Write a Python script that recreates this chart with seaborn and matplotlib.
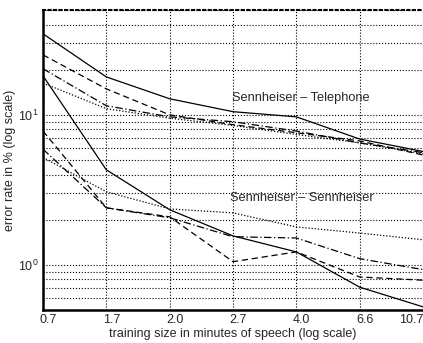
import numpy as np
import pandas as pd
import matplotlib
matplotlib.use("Agg")
import matplotlib.pyplot as plt
import matplotlib.transforms as mtransforms
import seaborn as sns

# ── data ──────────────────────────────────────────────────────
train_sizes = ["0.7", "1.7", "2.0", "2.7", "4.0", "6.6", "10.7"]
systems = ["sys1", "sys2", "sys3", "sys4"]

# Sennheiser – Telephone
tel_sys1 = [34.7, 17.9, 12.8, 10.5, 9.7, 6.9, 5.7]
tel_sys2 = [25.1, 14.9, 10.0, 8.6, 7.6, 6.7, 5.4]
tel_sys3 = [20.3, 11.5, 9.7, 9.0, 7.8, 6.5, 5.6]
tel_sys4 = [16.3, 11.0, 9.5, 8.5, 7.4, 6.5, 5.5]

# Sennheiser – Sennheiser
sen_sys1 = [18.2, 4.3, 2.33, 1.56, 1.22, 0.71, 0.525]
sen_sys2 = [7.8, 2.4, 2.09, 1.05, 1.22, 0.83, 0.79]
sen_sys3 = [5.9, 2.4, 2.06, 1.54, 1.51, 1.10, 0.93]
sen_sys4 = [5.2, 3.07, 2.36, 2.22, 1.79, 1.63, 1.47]

rows = []
for cond, series in [("tel", [tel_sys1, tel_sys2, tel_sys3, tel_sys4]),
                     ("sen", [sen_sys1, sen_sys2, sen_sys3, sen_sys4])]:
    for name, vals in zip(systems, series):
        for size, v in zip(train_sizes, vals):
            rows.append({"cond": cond, "system": name, "size": size, "err": v})
df = pd.DataFrame(rows)

# ── plot ──────────────────────────────────────────────────────
sns.set_style("white")
plt.rcParams["font.family"] = ["Liberation Sans", "DejaVu Sans"]

fig = plt.figure(figsize=(4.23, 3.43), dpi=100)
ax = fig.add_axes([0.1017, 0.0962, 0.8983, 0.8746])

dashes = {"sys1": "", "sys2": (5, 3), "sys3": (6, 2, 1, 2), "sys4": (1, 1.5)}
for cond in ["tel", "sen"]:
    sns.lineplot(data=df[df.cond == cond], x="size", y="err", style="system",
                 dashes=dashes, color="black", linewidth=0.9, sort=False,
                 legend=False, ax=ax)

ax.set_yscale("log")
ax.set_ylim(0.5, 50)
ax.set_xlim(0, len(train_sizes) - 1)
ax.set_xticks(range(len(train_sizes)))
ax.set_xticklabels(train_sizes, fontsize=9)
ax.tick_params(axis="y", which="major", labelsize=9)
ax.tick_params(axis="both", which="both", length=0, pad=3)

# labels sit a few pixels right of their grid lines, last one kept inside
shift = mtransforms.ScaledTranslation(5 / 100, 0, fig.dpi_scale_trans)
for lab in ax.get_xticklabels()[:-1]:
    lab.set_transform(lab.get_transform() + shift)
ax.get_xticklabels()[-1].set_ha("right")

ax.grid(True, which="major", axis="x", color="black", linestyle=":", linewidth=0.8)
ax.grid(True, which="both", axis="y", color="black", linestyle=":", linewidth=0.8)

ax.set_xlabel("training size in minutes of speech (log scale)", fontsize=9, labelpad=1)
ax.set_ylabel("error rate in % (log scale)", fontsize=9)
ax.yaxis.set_label_coords(-0.072, 0.5)

ax.text(2.98, 13.0, "Sennheiser – Telephone", fontsize=9.2, va="center")
ax.text(2.95, 2.8, "Sennheiser – Sennheiser", fontsize=9.2, va="center")

for side in ["left", "bottom"]:
    ax.spines[side].set_color("black")
    ax.spines[side].set_linewidth(1.8)
ax.spines["top"].set_color("black")
ax.spines["top"].set_linewidth(1.5)
ax.spines["top"].set_linestyle(":")
ax.spines["right"].set_visible(False)

fig.savefig("out.png", dpi=100)
